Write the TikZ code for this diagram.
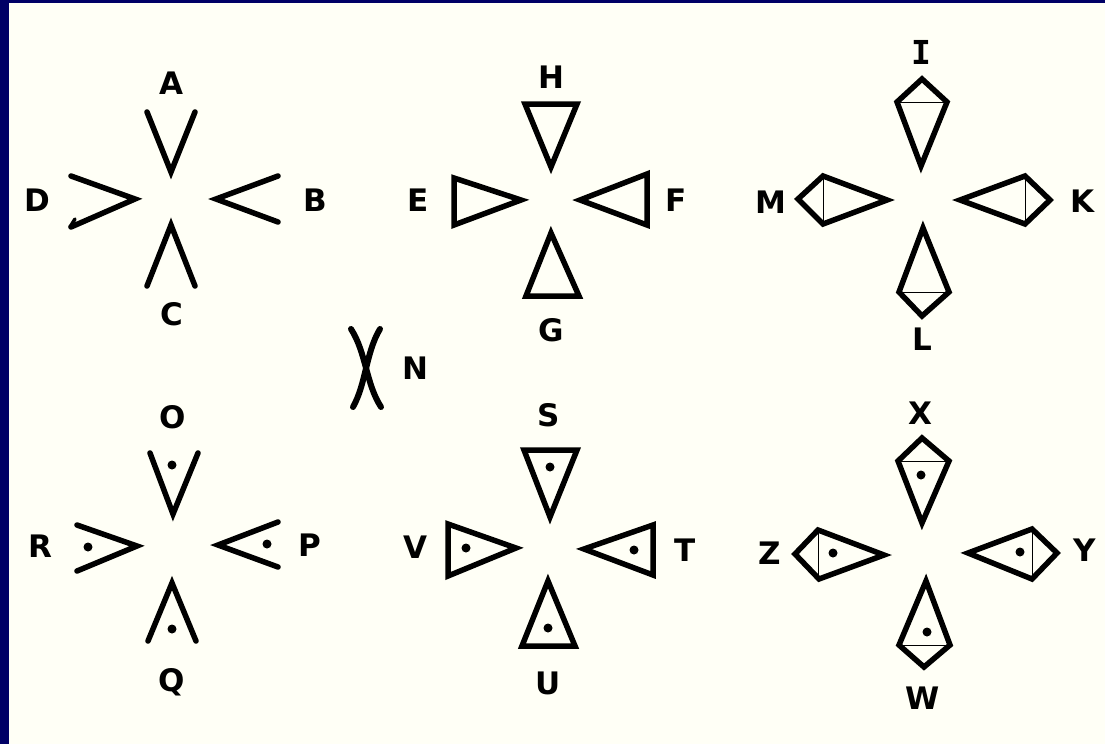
\documentclass[tikz,border=0pt]{standalone}
\usepackage{fontspec}
\setmainfont{DejaVu Sans}
\newfontfamily\monofam{DejaVu Sans Mono}
\definecolor{navy}{HTML}{000066}
\definecolor{paper}{HTML}{FFFFF6}
\definecolor{thin}{HTML}{A0A0A0}
\begin{document}
\begin{tikzpicture}[x=1pt,y=-1pt,
  shp/.style={line width=5.5pt,line join=miter,line cap=round,black},
  tri/.style={line width=5.5pt,line join=miter,black},
  gl/.style={line width=2pt,thin},
  lbl/.style={font=\fontsize{31}{31}\selectfont\bfseries,inner sep=0pt,text=black},
  pt/.style={circle,fill=black,inner sep=0pt,minimum size=9pt}]
\useasboundingbox (0,0) rectangle (1105,744);
\fill[navy] (0,0) rectangle (1105,744);
\fill[paper] (9,3) rectangle (1105,744);
% ---------- cluster A-D ----------
\node[lbl] (A) at (171,83) {A};
\node[lbl] (B) at (315,200) {B};
\node[lbl] (C) at (172,314) {C};
\node[lbl] (D) at (37,200) {D};
\draw[shp] (147,112) -- (171,172) -- (195,112);
\draw[shp] (278,176) -- (216,199) -- (278,222);
\draw[shp] (147,286) -- (171,225) -- (195,286);
\draw[shp] (71,176) -- (135,199) -- (71,227);
\draw[line width=3.5pt,line cap=round] (70,227) -- (75,219);
% ---------- cluster E-H ----------
\node[lbl] (H) at (551,77) {H};
\node[lbl] (F) at (676,200) {F};
\node[lbl] (G) at (551,330) {G};
\node[lbl] (E) at (418,200) {E};
\draw[tri] (525,104) -- (577,104) -- (551,167) -- cycle;
\draw[tri] (647,174) -- (647,225) -- (580,200) -- cycle;
\draw[tri] (526,296) -- (579,296) -- (551,233) -- cycle;
\draw[tri] (454,178) -- (454,225) -- (521,200) -- cycle;
% ---------- cluster I-M ----------
\node[font=\fontsize{33}{33}\selectfont\bfseries\monofam,inner sep=0pt] (I) at (921,52) {I};
\node[lbl] (K) at (1082,201) {K};
\node[lbl] (L) at (922,339) {L};
\node[lbl] (M) at (771,202) {M};
\draw[gl] (897,102) -- (947,102);
\draw[tri] (922,79) -- (947,102) -- (921,166) -- (897,102) -- cycle;
\draw[gl] (1025,176) -- (1025,224);
\draw[tri] (960,200) -- (1025,176) -- (1050,200) -- (1025,224) -- cycle;
\draw[gl] (899,292) -- (949,292);
\draw[tri] (923,228) -- (949,292) -- (922,316) -- (899,292) -- cycle;
\draw[gl] (823,176) -- (823,224);
\draw[tri] (798,199) -- (823,176) -- (887,200) -- (823,224) -- cycle;
% ---------- N ----------
\node[lbl] (N) at (415,368) {N};
\draw[line width=6pt,line cap=round] (351,329) .. controls (366,352) and (366,384) .. (381,407);
\draw[line width=6pt,line cap=round] (380,329) .. controls (366,352) and (366,384) .. (353,407);
% ---------- cluster O-R ----------
\node[lbl] (O) at (173,417) {O};
\node[lbl] (P) at (310,545) {P};
\node[lbl] (Q) at (172,682) {Q};
\node[lbl] (R) at (40,546) {R};
\draw[shp] (150,453) -- (173,514) -- (198,453);
\node[pt] (o) at (172,465) {};
\draw[shp] (278,522) -- (218,545) -- (278,567);
\node[pt] (p) at (267,544) {};
\draw[shp] (148,641) -- (172,583) -- (196,641);
\node[pt] (q) at (172,629) {};
\draw[shp] (77,525) -- (137,546) -- (77,571);
\node[pt] (r) at (88,547) {};
% ---------- cluster S-V ----------
\node[lbl] (S) at (549,415) {S};
\node[lbl] (T) at (685,550) {T};
\node[lbl] (U) at (548,683) {U};
\node[lbl] (V) at (415,547) {V};
\draw[tri] (524,450) -- (577,450) -- (550,517) -- cycle;
\node[pt] (s) at (550,467) {};
\draw[tri] (653,525) -- (653,575) -- (584,549) -- cycle;
\node[pt] (t) at (634,550) {};
\draw[tri] (522,646) -- (575,646) -- (548,581) -- cycle;
\node[pt] (u) at (548,628) {};
\draw[tri] (448,524) -- (448,576) -- (516,548) -- cycle;
\node[pt] (v) at (466,548) {};
% ---------- cluster W-Z ----------
\node[lbl] (X) at (920,413) {X};
\node[lbl] (Y) at (1085,550) {Y};
\node[lbl] (W) at (923,698) {W};
\node[lbl] (Z) at (770,553) {Z};
\draw[gl] (898,461) -- (949,461);
\draw[tri] (922,438) -- (949,461) -- (922,523) -- (898,461) -- cycle;
\node[pt] (x) at (921,475) {};
\draw[gl] (1032,529) -- (1032,579);
\draw[tri] (968,553) -- (1032,529) -- (1057,553) -- (1032,579) -- cycle;
\node[pt] (y) at (1020,552) {};
\draw[gl] (899,645) -- (950,645);
\draw[tri] (926,581) -- (950,645) -- (924,667) -- (899,645) -- cycle;
\node[pt] (w) at (927,632) {};
\draw[gl] (818,530) -- (818,579);
\draw[tri] (795,554) -- (818,530) -- (884,555) -- (819,579) -- cycle;
\node[pt] (z) at (833,553) {};
\end{tikzpicture}
\end{document}
